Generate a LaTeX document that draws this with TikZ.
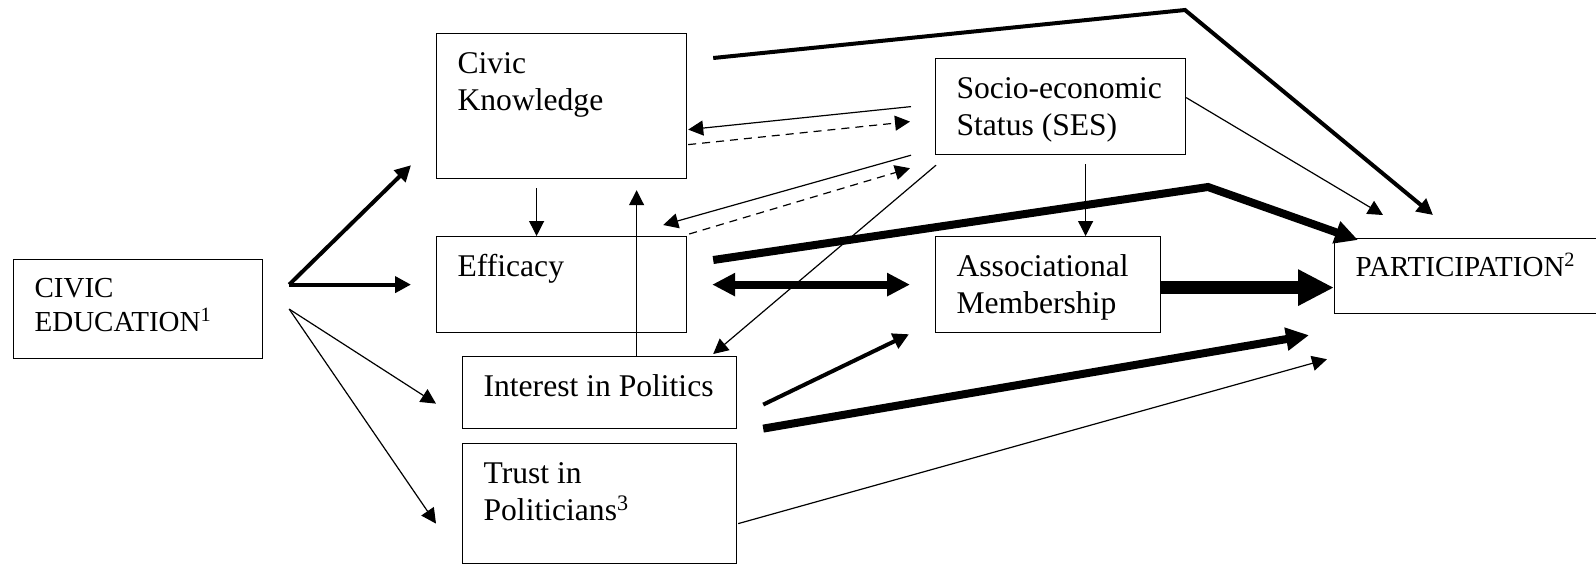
\documentclass[tikz,border=0pt]{standalone}
\usepackage{fontspec}
\setmainfont{Liberation Serif}
\usepackage{tikz}
\usetikzlibrary{arrows.meta}
\tikzset{
  font=\fontsize{15.8}{18.5}\selectfont,
  varbox/.style 2 args={
    draw, line width=0.6pt, anchor=north west, align=flush left,
    inner xsep=10.5pt, inner ysep=0pt, text height=20pt,
    text width=#1, text depth=#2
  },
  capsfont/.style={font=\fontsize{14.5}{17}\selectfont, text height=19pt},
  thinarr/.style={-{Triangle[length=7.5pt,width=7.5pt]}, line width=0.6pt},
  dasharr/.style={thinarr, dash pattern=on 4pt off 3pt},
  midarr/.style={-{Triangle[length=8pt,width=8pt]}, line width=2pt},
  thickarr/.style={-{Triangle[length=11.5pt,width=11pt]}, line width=4pt},
  dblarr/.style={{Triangle[length=11.5pt,width=11pt]}-{Triangle[length=11.5pt,width=11pt]}, line width=4pt},
  fatarr/.style={-{Triangle[length=18pt,width=17pt]}, line width=6.5pt}
}

\begin{document}
\begin{tikzpicture}[x=0.5pt, y=-0.5pt]
  \useasboundingbox (0,0) rectangle (1596,564);
  \node[varbox={103.5pt}{30.5pt}, capsfont] (ce) at (13,259) {CIVIC\\EDUCATION\textsuperscript{1}};
  \node[varbox={140pt}{18.5pt}, capsfont] (part) at (1334,238) {PARTICIPATION\textsuperscript{2}};
  \foreach \n/\x/\y/\tw/\td/\t in {
    ck/436/33/104pt/52.5pt/{Civic\\Knowledge},
    eff/436/236/104pt/28pt/{Efficacy},
    int/462/356/116pt/16pt/{\mbox{Interest in Politics}},
    trust/462/443/116pt/40pt/{Trust in\\Politicians\textsuperscript{3}},
    ses/935/58/104pt/28pt/{\mbox{Socio-economic}\\Status (SES)},
    assoc/935/236/91.5pt/28pt/{Associational\\Membership}} {
    \node[varbox={\tw}{\td}] (\n) at (\x,\y) {\t};
  }

  \coordinate (hub) at ([shift={(26,-24.5)}]ce.east);
  \coordinate (fan) at ([shift={(26,0)}]ce.east);
  \coordinate (kpeak) at (1185,10);
  \coordinate (epeak) at (1208,187);

  \draw[midarr] (hub) -- ([shift={(-25,-14)}]ck.south west);
  \draw[midarr] (hub) -- ([shift={(-25,0)}]eff.west);
  \draw[thinarr] (fan) -- ([shift={(-26,11)}]int.west);
  \draw[thinarr] (fan) -- ([shift={(-26,20)}]trust.west);
  \draw[thinarr] ([shift={(-25,9)}]ck.south) -- ([shift={(-25,0)}]eff.north);
  \draw[thinarr] ([shift={(37,0)}]int.north) -- ([shift={(75,11)}]ck.south);
  \draw[thinarr] ([shift={(-24,0)}]ses.west) -- ([shift={(1,23.5)}]ck.east);
  \draw[dasharr] ([shift={(1,38.5)}]ck.east) -- ([shift={(-25,15)}]ses.west);
  \draw[thinarr] ([shift={(-24,0)}]ses.south west) -- ([shift={(-24,-11)}]eff.north east);
  \draw[dasharr] ([shift={(2,-2)}]eff.north east) -- ([shift={(-25,13)}]ses.south west);
  \draw[thinarr] ([shift={(1,10)}]ses.south west) -- ([shift={(-24,-2)}]int.north east);
  \draw[thinarr] ([shift={(25,9)}]ses.south) -- ([shift={(37.5,0)}]assoc.north);
  \draw[thinarr] ([shift={(0,-9)}]ses.east) -- ([shift={(49,-23)}]part.north west);
  \draw[midarr] ([shift={(26,25)}]ck.north east) -- (kpeak) -- ([shift={(99,-23)}]part.north west);
  \draw[thickarr] ([shift={(26,24)}]eff.north east) -- (epeak) -- ([shift={(24,2)}]part.north west);
  \draw[dblarr] ([shift={(25,0)}]eff.east) -- ([shift={(-25,0)}]assoc.west);
  \draw[midarr] ([shift={(26,12)}]int.east) -- ([shift={(-26,1)}]assoc.south west);
  \draw[thickarr] ([shift={(26,36)}]int.east) -- ([shift={(-25,21)}]part.south west);
  \draw[thinarr] ([shift={(1,20)}]trust.east) -- ([shift={(-7,45)}]part.south west);
  \draw[fatarr] ([shift={(0,3)}]assoc.east) -- ([shift={(0,11.5)}]part.west);
\end{tikzpicture}
\end{document}
